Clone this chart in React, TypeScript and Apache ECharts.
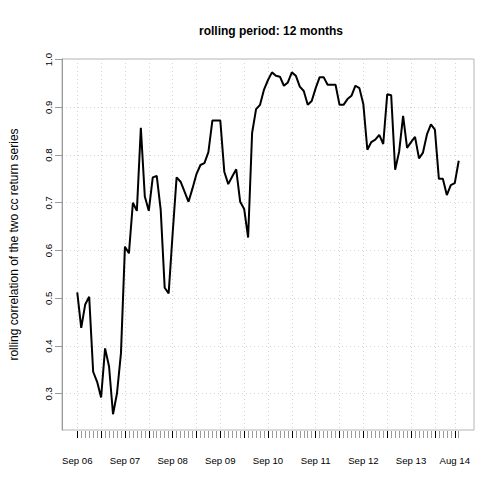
import React, { useEffect, useRef } from "react";
import * as echarts from "echarts";

// rolling 12-month correlation, monthly, Sep 06 .. Sep 14 (index 0..96)
const rollingCorr: number[] = [
  0.512, 0.438, 0.487, 0.503, 0.346, 0.325, 0.292, 0.395, 0.357, 0.257,
  0.301, 0.385, 0.608, 0.594, 0.700, 0.683, 0.857, 0.713, 0.683, 0.753,
  0.756, 0.685, 0.522, 0.510, 0.635, 0.753, 0.744, 0.723, 0.702, 0.730,
  0.760, 0.779, 0.783, 0.806, 0.872, 0.872, 0.872, 0.765, 0.739, 0.755,
  0.770, 0.702, 0.687, 0.627, 0.846, 0.896, 0.905, 0.937, 0.957, 0.973,
  0.966, 0.964, 0.945, 0.952, 0.973, 0.966, 0.943, 0.934, 0.905, 0.913,
  0.940, 0.963, 0.963, 0.947, 0.947, 0.947, 0.905, 0.905, 0.917, 0.924,
  0.945, 0.940, 0.906, 0.811, 0.827, 0.832, 0.842, 0.823, 0.927, 0.925,
  0.769, 0.807, 0.882, 0.815, 0.827, 0.838, 0.793, 0.805, 0.843, 0.864,
  0.853, 0.750, 0.750, 0.716, 0.737, 0.741, 0.788,
];

const xLabelIdx: number[] = [0, 12, 24, 36, 48, 60, 72, 84, 95];
const xLabels: string[] = [
  "Sep 06", "Sep 07", "Sep 08", "Sep 09", "Sep 10",
  "Sep 11", "Sep 12", "Sep 13", "Aug 14",
];
const xGridIdx: number[] = [0, 6, 12, 18, 24, 30, 36, 42, 48, 54, 60, 66, 72, 78, 84, 90, 95];
const yTicks: number[] = [0.3, 0.4, 0.5, 0.6, 0.7, 0.8, 0.9, 1.0];

const FONT = "'Liberation Sans', Arial, Helvetica, sans-serif";

export default function App() {
  const ref = useRef<HTMLDivElement>(null);

  useEffect(() => {
    document.body.style.margin = "0";
    if (!ref.current) return;
    const chart = echarts.init(ref.current, undefined, { renderer: "svg" });

    const monthIdx = rollingCorr.map((_, i) => i);
    const labelMap: Record<number, string> = {};
    xLabelIdx.forEach((v, k) => (labelMap[v] = xLabels[k]));

    const xMin = -3.84;
    const xMax = rollingCorr.length - 1 + 3.84;

    chart.setOption({
      animation: false,
      backgroundColor: "#ffffff",
      textStyle: { fontFamily: FONT },
      title: {
        text: "rolling period: 12 months",
        left: 266,
        textAlign: "center",
        top: 20,
        textStyle: { fontSize: 12, fontWeight: "bold", color: "#000", fontFamily: FONT },
      },
      grid: {
        left: 58,
        top: 59,
        width: 416,
        height: 371,
        show: true,
        borderColor: "#b4b4b4",
        borderWidth: 1,
        backgroundColor: "transparent",
      },
      xAxis: [
        {
          type: "value",
          min: xMin,
          max: xMax,
          position: "bottom",
          offset: 1,
          axisLine: { show: false, onZero: false },
          axisTick: { show: true, length: 7, customValues: monthIdx, lineStyle: { color: "#9a9a9a", width: 1 } },
          axisLabel: { show: false },
          splitLine: { show: false },
        },
        {
          type: "value",
          min: xMin,
          max: xMax,
          position: "bottom",
          offset: 1,
          axisLine: { show: false, onZero: false },
          axisTick: { show: true, length: 7, customValues: xGridIdx, lineStyle: { color: "#000", width: 1 } },
          axisLabel: {
            show: true,
            customValues: xLabelIdx,
            margin: 24,
            fontSize: 9.6,
            color: "#000",
            fontFamily: FONT,
            formatter: (v: number) => labelMap[Math.round(v)] ?? "",
          },
          splitLine: { show: true, lineStyle: { color: "#d3d3d3", type: [1, 3], width: 1 } },
        },
      ],
      yAxis: {
        type: "value",
        min: 0.224,
        max: 1.001,
        name: "rolling correlation of the two cc return series",
        nameLocation: "middle",
        nameRotate: 90,
        nameGap: 42,
        nameTextStyle: { fontSize: 12, color: "#000", fontFamily: FONT },
        axisLine: { show: true, onZero: false, lineStyle: { color: "#9a9a9a", width: 1 } },
        axisTick: { show: true, length: 7, customValues: yTicks, lineStyle: { color: "#9a9a9a" } },
        axisLabel: {
          show: true,
          customValues: yTicks,
          rotate: 90,
          margin: 9,
          fontSize: 9.6,
          color: "#000",
          fontFamily: FONT,
          formatter: (v: number) => v.toFixed(1),
        },
        splitLine: { show: true, lineStyle: { color: "#d3d3d3", type: [1, 3], width: 1 } },
      },
      series: [
        {
          type: "line",
          xAxisIndex: 1,
          data: rollingCorr.map((v, i) => [i, v]),
          showSymbol: false,
          symbol: "none",
          lineStyle: { color: "#000", width: 2 },
          z: 5,
        },
      ],
    });

    return () => chart.dispose();
  }, []);

  return <div ref={ref} style={{ width: 504, height: 504 }} />;
}
